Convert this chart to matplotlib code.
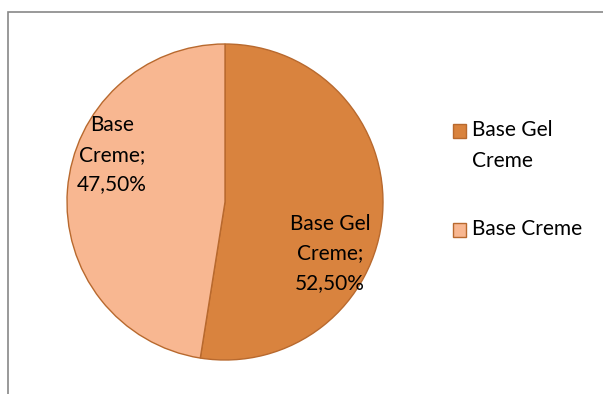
import matplotlib.pyplot as plt
from matplotlib.patches import Rectangle

categories = ['Base Gel Creme', 'Base Creme']
values = [52.5, 47.5]
legend_labels = ['Base Gel\nCreme', 'Base Creme']
slice_labels = ['Base Gel\nCreme;', 'Base\nCreme;']
colors = ['#D9833E', '#F8B791']
edge = '#B8692E'

plt.rcParams['font.family'] = ['Lato', 'DejaVu Sans']

W, H = 603, 394
fig = plt.figure(figsize=(W / 100, H / 100), dpi=100)

# pie: centre (225, 202) px, radius 158 px
cx, cy, r = 225, 202, 158
ax = fig.add_axes([(cx - r) / W, (H - cy - r) / H, 2 * r / W, 2 * r / H])
wedges, _ = ax.pie(values, colors=colors, startangle=90, counterclock=False,
                   wedgeprops=dict(edgecolor=edge, linewidth=1.0))
ax.set_xlim(-1, 1)
ax.set_ylim(-1, 1)
ax.set_aspect('equal')
ax.axis('off')

# label positions (Excel best fit), in pie radius units
label_pos = [(0.665, -0.325), (-0.715, 0.30)]
for (x, y), lab, v in zip(label_pos, slice_labels, values):
    txt = lab + '\n' + f'{v:.2f}'.replace('.', ',') + '%'
    ax.text(x, y, txt, ha='center', va='center', fontsize=15, linespacing=1.6,
            color='black')

# legend, drawn by hand so the square sits on the first text line
leg_y = [131, 230]  # px from top, first line centre
for yy, lab, col in zip(leg_y, legend_labels, colors):
    fig.patches.append(Rectangle((452.5 / W, 1 - (yy + 7) / H), 13.5 / W, 14 / H,
                                 transform=fig.transFigure, facecolor=col,
                                 edgecolor=edge, linewidth=1.0))
    fig.text(472 / W, 1 - (yy - 11) / H, lab, ha='left', va='top',
             fontsize=15, linespacing=1.7, color='black')

# outer chart border
fig.patches.append(Rectangle((8 / W, -0.1), 1.2, 1 - 12 / H + 0.1,
                             transform=fig.transFigure, fill=False,
                             edgecolor='#888888', linewidth=1.2))

fig.savefig('out.png', dpi=100)
